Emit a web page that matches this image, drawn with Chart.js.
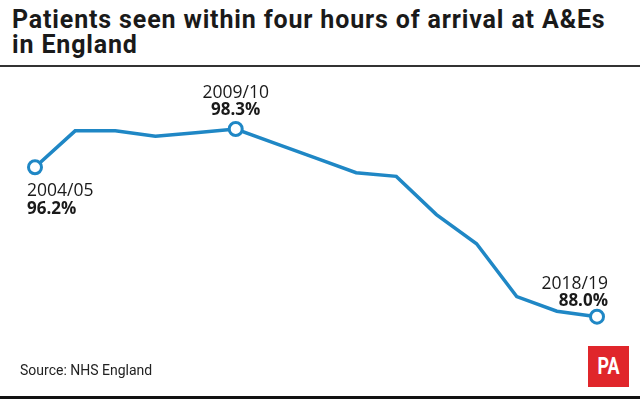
<!DOCTYPE html>
<html>
<head>
<meta charset="utf-8">
<script src="https://cdn.jsdelivr.net/npm/chart.js@4/dist/chart.umd.min.js"></script>
<style>
  html, body { margin: 0; padding: 0; background: #fff; }
  body { width: 640px; height: 399px; position: relative; overflow: hidden; }
  #title { position: absolute; left: 12px; top: 7px; width: 630px; font-family: "Roboto", sans-serif; font-weight: bold; font-size: 25px; line-height: 25px; letter-spacing: 0.85px; color: #1a1a1a; white-space: nowrap; }
  #rule { position: absolute; left: 0; top: 65px; width: 640px; height: 2px; background: #333; }
  #source { position: absolute; left: 20px; top: 363px; font-family: "Roboto", sans-serif; font-size: 14px; line-height: 14px; color: #222; }
  #logo { position: absolute; left: 588px; top: 346px; width: 41px; height: 41px; background: #e0262b; }
  #logo span { display: block; color: #fff; font-family: "Roboto", sans-serif; font-weight: bold; font-size: 23px; line-height: 41px; text-align: center; transform: scaleX(0.78); }
  #bottom { position: absolute; left: 0; top: 396px; width: 640px; height: 3px; background: #111; }
  #wrap { position: absolute; left: 0; top: 0; width: 640px; height: 399px; }
</style>
</head>
<body>
<div id="title">Patients seen within four hours of arrival at A&amp;Es<br>in England</div>
<div id="rule"></div>
<div id="wrap"><canvas id="c" width="640" height="399"></canvas></div>
<div id="source">Source: NHS England</div>
<div id="logo"><span>PA</span></div>
<div id="bottom"></div>
<script>
const years = ["2004/05","2005/06","2006/07","2007/08","2008/09","2009/10","2010/11","2011/12","2012/13","2013/14","2014/15","2015/16","2016/17","2017/18","2018/19"];
const seenWithinFourHours = [96.2, 98.2, 98.2, 97.9, 98.1, 98.3, 97.5, 96.7, 95.9, 95.7, 93.6, 92.0, 89.1, 88.3, 88.0];
const highlighted = [0, 5, 14];
const yMin = 86, yMax = 102;

const blue = "#1f87c5";

const labelPlugin = {
  id: "pointLabels",
  afterDatasetsDraw(chart) {
    const ctx = chart.ctx;
    const meta = chart.getDatasetMeta(0);
    ctx.save();
    ctx.fillStyle = "#1a1a1a";
    highlighted.forEach(i => {
      const p = meta.data[i];
      let x = p.x, yYear, yVal, align;
      if (i === 0) { align = "left"; x = p.x - 8; yYear = p.y + 29; yVal = p.y + 47; }
      else if (i === highlighted[highlighted.length - 1]) { align = "right"; x = p.x + 11; yYear = p.y - 28; yVal = p.y - 11; }
      else { align = "center"; yYear = p.y - 31; yVal = p.y - 14; }
      ctx.textAlign = align;
      ctx.textBaseline = "alphabetic";
      ctx.font = "17.5px 'Open Sans'";
      ctx.fillText(years[i], x, yYear);
      ctx.font = "bold 17px 'Open Sans'";
      ctx.fillText(seenWithinFourHours[i].toFixed(1) + "%", x, yVal);
    });
    ctx.restore();
  }
};

new Chart(document.getElementById("c"), {
  type: "line",
  data: {
    labels: years,
    datasets: [{
      data: seenWithinFourHours,
      borderColor: blue,
      borderWidth: 3.5,
      fill: false,
      tension: 0,
      pointRadius: seenWithinFourHours.map((v, i) => highlighted.includes(i) ? 6.5 : 0),
      pointBackgroundColor: "#fff",
      pointBorderColor: blue,
      pointBorderWidth: 3,
      clip: false
    }]
  },
  options: {
    responsive: false,
    animation: false,
    layout: { padding: { left: 35, right: 43, top: 61.6, bottom: 45.9 } },
    plugins: { legend: { display: false }, tooltip: { enabled: false }, title: { display: false } },
    scales: {
      x: { display: false, offset: false },
      y: { display: false, min: yMin, max: yMax }
    }
  },
  plugins: [labelPlugin]
});
</script>
</body>
</html>
